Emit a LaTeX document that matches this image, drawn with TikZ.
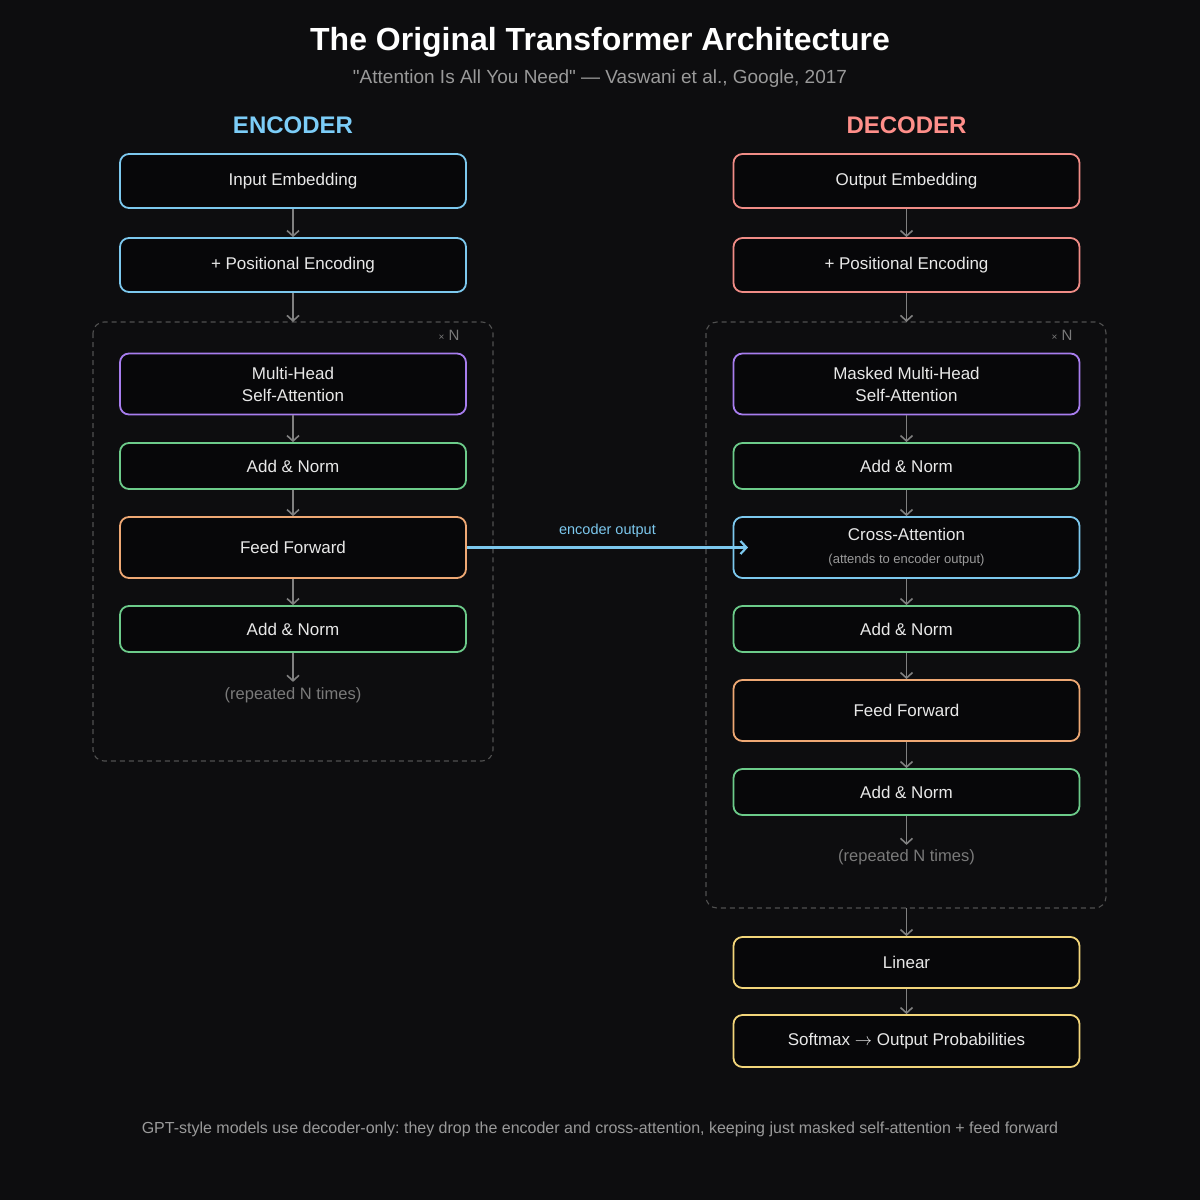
\documentclass[tikz,border=0pt]{standalone}
\usepackage{fontspec}
\setmainfont{Liberation Sans}[Ligatures=TeXOff]
\usetikzlibrary{arrows.meta,positioning}
\definecolor{bg}{HTML}{0D0D0F}
\definecolor{boxfill}{HTML}{070709}
\definecolor{cblue}{HTML}{7CC8EE}
\definecolor{cpink}{HTML}{F08C86}
\definecolor{cpurple}{HTML}{A77DEE}
\definecolor{cgreen}{HTML}{6CCB8A}
\definecolor{corange}{HTML}{EEA874}
\definecolor{cyellow}{HTML}{F2D57A}
\definecolor{arrowgray}{HTML}{808080}
\definecolor{dashgray}{HTML}{505050}
\definecolor{txt}{HTML}{E8E8E8}
\definecolor{subgray}{HTML}{9A9A9A}
\definecolor{dimgray}{HTML}{7A7A7A}
\definecolor{enclabel}{HTML}{7CCDF8}
\definecolor{declabel}{HTML}{FF8F8A}
\tikzset{
  blk/.style={draw, line width=1.8pt, rounded corners=9pt, fill=boxfill, text=txt,
    minimum width=346pt, inner sep=0pt, align=center, font=\fontsize{17}{22}\selectfont},
  blkS/.style={blk, minimum height=46pt},
  blkM/.style={blk, minimum height=54pt},
  blkL/.style={blk, minimum height=61pt},
  flow/.style={draw=arrowgray, line width=1.6pt, -{Straight Barb[length=5.5pt,width=12pt,line width=1.6pt]}},
  container/.style={draw=dashgray, dash pattern=on 5pt off 4pt, line width=1.1pt, rounded corners=11pt},
  note/.style={text=dimgray, font=\fontsize{16.5}{19}\selectfont},
  times/.style={text=dimgray, font=\fontsize{15}{18}\selectfont},
}
\begin{document}
\frenchspacing
\begin{tikzpicture}[x=1pt,y=-1pt]
\useasboundingbox (0,0) rectangle (1200,1200);
\fill[bg] (0,0) rectangle (1200,1200);

% titles
\node[text=white, font=\fontsize{32}{36}\selectfont\bfseries] (title) at (600,42) {The Original Transformer Architecture};
\node[text=subgray, font=\fontsize{19}{22}\selectfont] (subtitle) at (600,79) {"Attention Is All You Need" — Vaswani et al., Google, 2017};
\node[text=enclabel, font=\fontsize{24}{26}\selectfont\bfseries] (enc) at (293,125) {ENCODER};
\node[text=declabel, font=\fontsize{24}{26}\selectfont\bfseries] (dec) at (906.5,125) {DECODER};

% containers
\draw[container] (93,322) rectangle (493,761);
\draw[container] (706,322) rectangle (1106,908);
\node[times] (encN) at (449,335) {{\fontsize{10}{12}\selectfont ×} N};
\node[times] (decN) at (1062,335) {{\fontsize{10}{12}\selectfont ×} N};
\coordinate (encTop) at (293,322);
\coordinate (decTop) at (906.5,322);
\coordinate (decBot) at (906.5,908);

% encoder
\node[blkM, draw=cblue] (ie) at (293,181) {Input Embedding};
\node[blkM, draw=cblue] (pe) at (293,265) {+ Positional Encoding};
\node[blkL, draw=cpurple] (mha) at (293,384) {Multi-Head\\Self-Attention};
\node[blkS, draw=cgreen] (an1) at (293,466) {Add \& Norm};
\node[blkL, draw=corange] (ff) at (293,547.5) {Feed Forward};
\node[blkS, draw=cgreen] (an2) at (293,629) {Add \& Norm};
\node[note] (rep1) at (293,695) {(repeated N times)};

\draw[flow] (ie) -- (pe);
\draw[flow] (pe) -- (encTop);
\draw[flow] (mha) -- (an1);
\draw[flow] (an1) -- (ff);
\draw[flow] (ff) -- (an2);
\draw[flow] (an2.south) -- ++(0,29);

% decoder
\node[blkM, draw=cpink] (oe) at (906.5,181) {Output Embedding};
\node[blkM, draw=cpink] (pe2) at (906.5,265) {+ Positional Encoding};
\node[blkL, draw=cpurple] (mmha) at (906.5,384) {Masked Multi-Head\\Self-Attention};
\node[blkS, draw=cgreen] (dan1) at (906.5,466) {Add \& Norm};
\node[blkL, draw=cblue] (ca) at (906.5,547.5) {Cross-Attention\\[1pt]{\fontsize{13}{16}\selectfont\color{subgray}(attends to encoder output)}};
\node[blkS, draw=cgreen] (dan2) at (906.5,629) {Add \& Norm};
\node[blkL, draw=corange] (dff) at (906.5,710.5) {Feed Forward};
\node[blkS, draw=cgreen] (dan3) at (906.5,792) {Add \& Norm};
\node[note] (rep2) at (906.5,857) {(repeated N times)};
\node[blk, draw=cyellow, minimum height=51pt] (lin) at (906.5,962.5) {Linear};
\node[blk, draw=cyellow, minimum height=52pt] (sm) at (906.5,1041) {Softmax {\fontfamily{lmr}\selectfont$\rightarrow$} Output Probabilities};

\draw[flow] (oe) -- (pe2);
\draw[flow] (pe2) -- (decTop);
\draw[flow] (mmha) -- (dan1);
\draw[flow] (dan1) -- (ca);
\draw[flow] (ca) -- (dan2);
\draw[flow] (dan2) -- (dff);
\draw[flow] (dff) -- (dan3);
\draw[flow] (dan3.south) -- ++(0,29);
\draw[flow] (decBot) -- (lin);
\draw[flow] (lin) -- (sm);

% encoder output
\coordinate (caIn) at (748,547.5);
\draw[draw=cblue, line width=2.4pt, -{Straight Barb[length=6pt,width=13pt,line width=2.2pt]}] (ff.east) -- node[above=5pt, text=cblue, font=\fontsize{14.5}{17}\selectfont] (eolab) {encoder output} (caIn);

% footer
\node[text=subgray, font=\fontsize{16}{19}\selectfont] (foot) at (600,1129) {GPT-style models use decoder-only: they drop the encoder and cross-attention, keeping just masked self-attention + feed forward};
\end{tikzpicture}
\end{document}
